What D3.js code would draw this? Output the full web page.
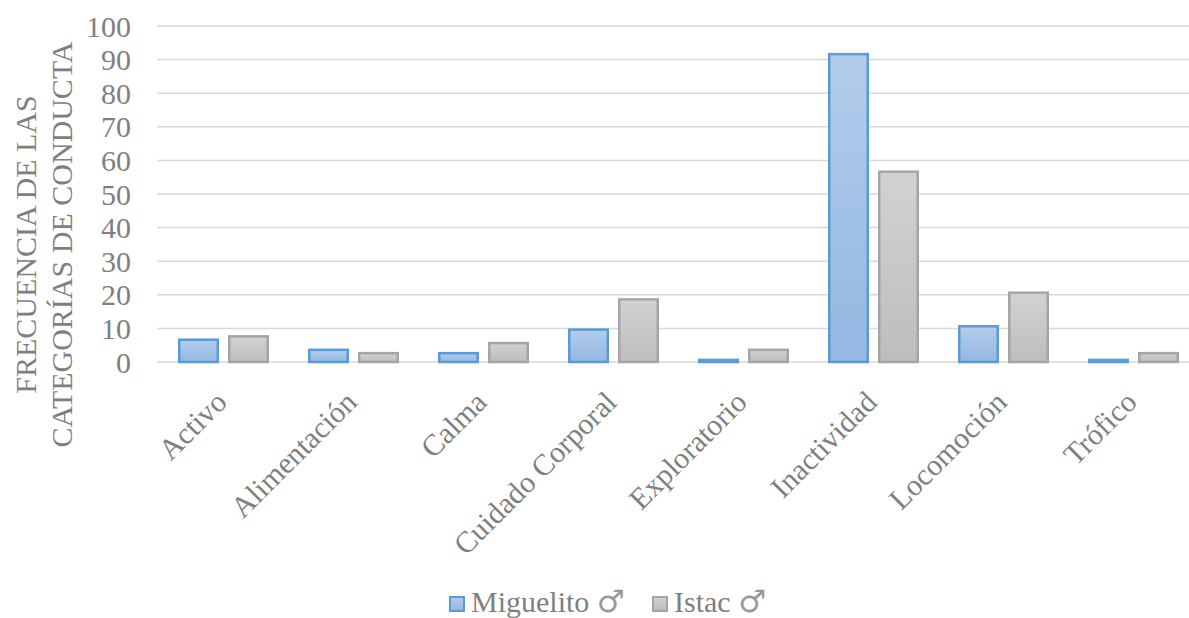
<!DOCTYPE html>
<html><head><meta charset="utf-8">
<script src="https://cdn.jsdelivr.net/npm/d3@7"></script>
<style>body{margin:0;background:#fff}svg{display:block}text{font-family:"Liberation Serif","Times New Roman",serif;fill:#7f7f7f}</style>
</head><body>
<svg id="c" width="1189" height="618"></svg>
<script>
const categories = ["Activo","Alimentación","Calma","Cuidado Corporal","Exploratorio","Inactividad","Locomoción","Trófico"];
const seriesNames = ["Miguelito","Istac"];
const seriesSymbol = "♂";
const miguelito = [7,4,3,10,1,92,11,1];
const istac = [8,3,6,19,4,57,21,3];
const yTicks = [0,10,20,30,40,50,60,70,80,90,100];
const axisTitle = ["FRECUENCIA DE LAS","CATEGORÍAS DE CONDUCTA"];

const svg = d3.select("#c");
const defs = svg.append("defs");
function grad(id, c1, c2){
  const g = defs.append("linearGradient").attr("id",id).attr("x1",0).attr("x2",0).attr("y1",0).attr("y2",1);
  g.append("stop").attr("offset","0%").attr("stop-color",c1);
  g.append("stop").attr("offset","100%").attr("stop-color",c2);
}
grad("gBlue","#b3cceb","#93b8e3");
grad("gGray","#d2d2d2","#bdbdbd");
const fills = ["url(#gBlue)","url(#gGray)"];
const strokes = ["#5b9bd5","#a5a5a5"];

const y = d3.scaleLinear().domain([0,100]).range([362,26]);
const x0 = d3.scaleBand().domain(categories).range([158.5,1198.5]).paddingInner(0.3).paddingOuter(0.15);
const x1 = d3.scaleBand().domain(seriesNames).range([0,x0.bandwidth()]).paddingInner(0.18);

// gridlines
svg.append("g").selectAll("line").data(yTicks).join("line")
  .attr("x1",157).attr("x2",1189).attr("y1",d=>y(d)).attr("y2",d=>y(d))
  .attr("stroke","#d9d9d9").attr("stroke-width",1.5);

// y tick labels
svg.append("g").selectAll("text").data(yTicks).join("text")
  .attr("x",131).attr("y",d=>y(d)).attr("dy","0.35em").attr("text-anchor","end")
  .style("font-size","30px").text(d=>d);

// axis title
const at = svg.append("text").attr("transform","translate(0,244.5) rotate(-90)").attr("text-anchor","middle").style("font-size","30px");
at.append("tspan").attr("x",0).attr("y",36).text(axisTitle[0]);
at.append("tspan").attr("x",0).attr("y",72).text(axisTitle[1]);

// bars
const data = [miguelito, istac];
const g = svg.append("g");
data.forEach((vals,si)=>{
  g.selectAll(null).data(vals).join("rect")
    .attr("x",(d,i)=>x0(categories[i])+x1(seriesNames[si])+1.25)
    .attr("width",x1.bandwidth()-2.5)
    .attr("y",d=>y(d)+1.25)
    .attr("height",d=>Math.max(0,y(0)-y(d)-1.25))
    .attr("fill",fills[si]).attr("stroke",strokes[si]).attr("stroke-width",2.5);
});

// x labels
svg.append("g").selectAll("text").data(categories).join("text")
  .attr("transform",d=>`translate(${x0(d)+x0.bandwidth()/2+5},404) rotate(-45)`)
  .attr("text-anchor","end").style("font-size","30px").text(d=>d);

// legend
const lg = svg.append("g");
const legX = [449, 652];
seriesNames.forEach((s,i)=>{
  lg.append("rect").attr("x",legX[i]+1).attr("y",597).attr("width",14).attr("height",14)
    .attr("fill",fills[i]).attr("stroke",strokes[i]).attr("stroke-width",2);
  const t = lg.append("text").attr("x",legX[i]+22).attr("y",612).style("font-size","30px");
  t.append("tspan").text(s + " ");
  t.append("tspan").style("font-family","'DejaVu Sans'").style("font-size","31px").style("fill","#999").text(seriesSymbol);
});
</script>
</body></html>
